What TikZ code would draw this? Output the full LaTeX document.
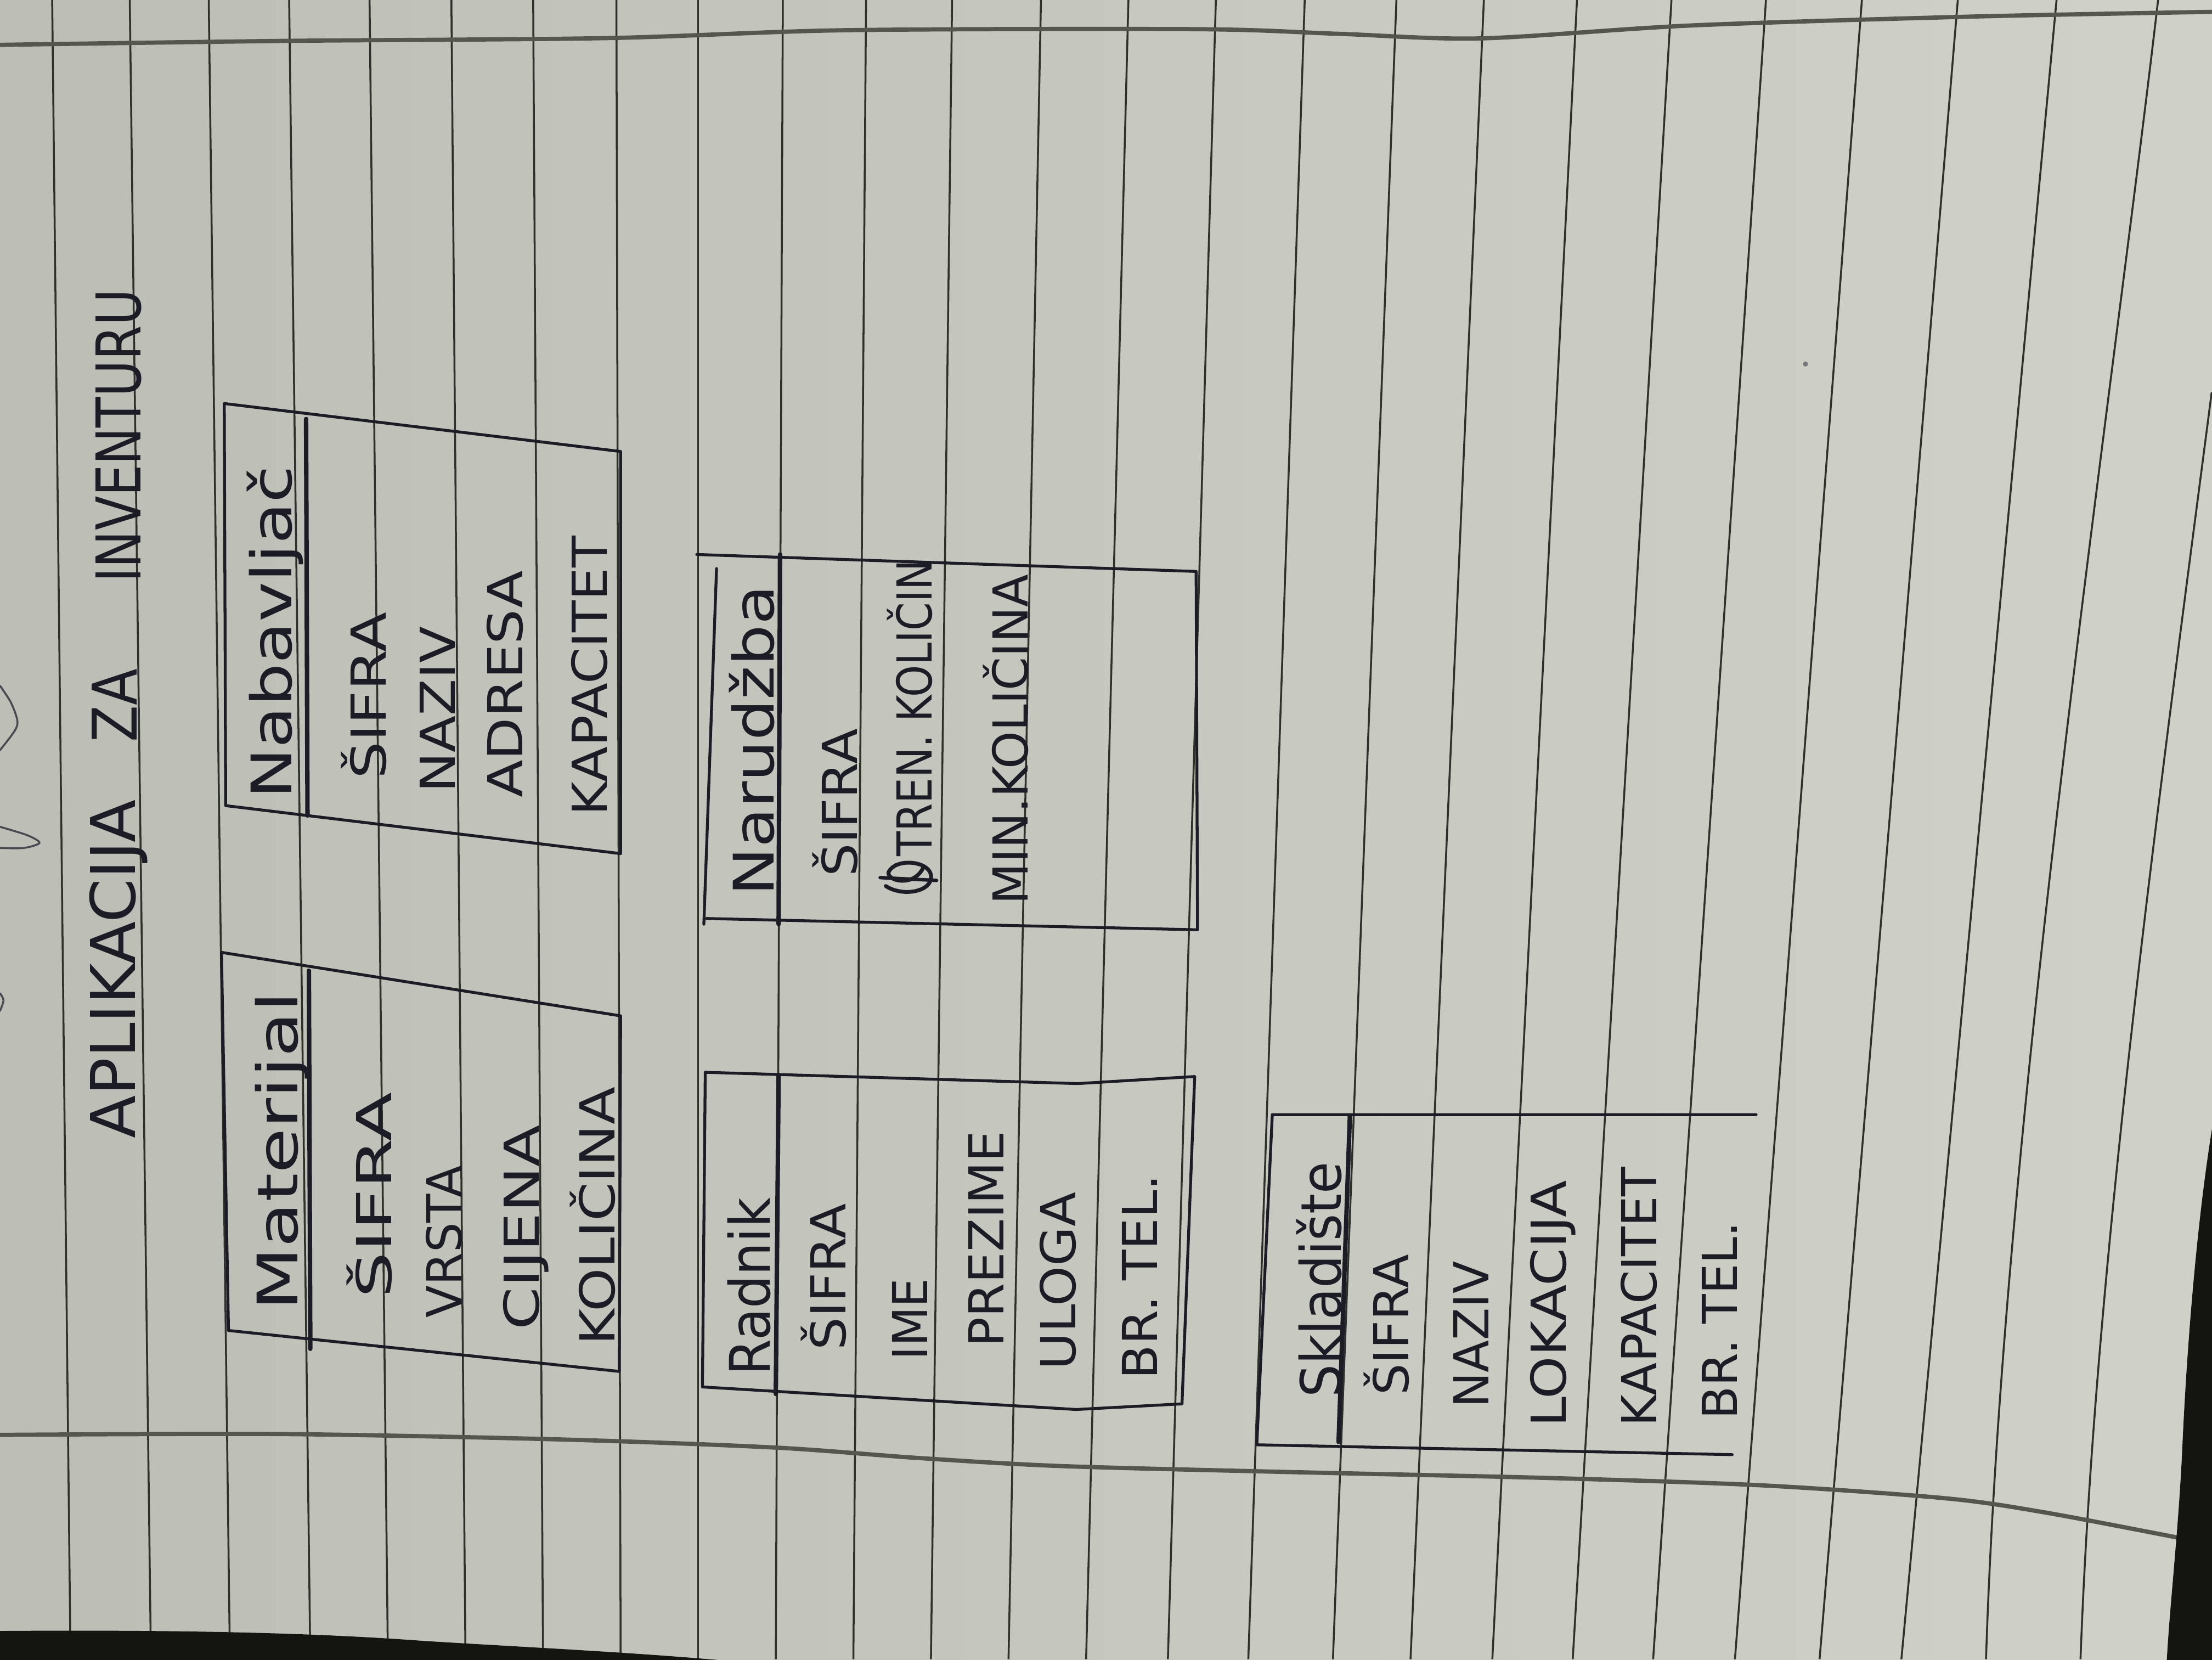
\documentclass[tikz,border=0pt]{standalone}
\usepackage{fontspec}
\setmainfont{DejaVu Sans}
\usepackage{graphicx}
\newcommand\fitw[2]{\resizebox{#1cm}{\height}{#2}}
\definecolor{paperL}{HTML}{BDBFB6}
\definecolor{paperR}{HTML}{CFD0C8}
\definecolor{rulec}{HTML}{2E302C}
\definecolor{inkc}{HTML}{1C1C26}
\definecolor{edgec}{HTML}{55574F}
\definecolor{darkc}{HTML}{141410}
\newcommand\paperbg{%
  \foreach \i in {0,...,15}{
    \pgfmathtruncatemacro\p{100-\i*100/15}
    \pgfmathsetmacro\xa{\i*98-1}
    \pgfmathsetmacro\xb{\i*98+99}
    \fill[paperL!\p!paperR] (\xa,-5) rectangle (\xb,1181);
  }}
\newcommand\ruledlines{%
  \foreach \t/\b in {37/50, 92/107, 148/163, 205/220, 262/275, 320/330, 378/385,
    437/440, 495/495, 555/550, 614/605, 675/660, 738/715, 800/770, 862/828,
    925/885, 990/945, 1052/1000, 1118/1058, 1185/1115, 1252/1172, 1320/1230,
    1388/1290, 1458/1348}
    \draw[rule] (\t,0) -- (\b,1176);
  \draw[rule] (1530,0) .. controls (1495,300) and (1420,800) .. (1408,1176);
  \draw[rule] (1568,278) .. controls (1530,570) and (1485,900) .. (1475,1176);}
\newcommand\darkcorners{%
  \fill[darkc] (-5,1156) .. controls (120,1155) and (220,1157) .. (300,1163)
    .. controls (380,1168) and (470,1172) .. (545,1180) -- (-5,1180) -- cycle;
  \fill[darkc] (1573,773) .. controls (1558,850) and (1550,960) .. (1547,1030)
    .. controls (1544,1090) and (1538,1140) .. (1536,1180) -- (1573,1180) -- cycle;}
\begin{document}
\begin{tikzpicture}[x=0.025714cm,y=-0.025714cm,
  ink/.style={draw=inkc, line width=1.5pt, line cap=round, line join=round},
  divider/.style={draw=inkc, line width=2.3pt, line cap=round},
  rule/.style={draw=rulec, line width=1.0pt},
  paperedge/.style={draw=edgec, line width=2.2pt, line cap=round},
  margin/.style={draw=inkc!80, line width=1pt, line cap=round},
  lbl/.style={rotate=90, inner sep=0pt, text=inkc, font=\fontsize{25}{25}\selectfont},
  ttl/.style={lbl, font=\fontsize{32}{32}\selectfont},
  hdr/.style={lbl, font=\fontsize{29}{29}\selectfont}]
\useasboundingbox (0cm,0cm) rectangle (40.32cm,-30.24cm);
\paperbg
\ruledlines
% paper edges
\draw[paperedge] plot[smooth] coordinates {(0,31.8) (200,29) (430,27) (600,21.4)
  (850,20.7) (950,24) (1050,27.2) (1200,18) (1400,11.7) (1568,8.4)};
\draw[paperedge] plot[smooth] coordinates {(0,1017) (200,1016.4) (400,1020.3)
  (550,1026) (650,1033.3) (750,1039) (900,1043) (1100,1047.6) (1250,1052.8)
  (1380,1062) (1450,1072) (1545,1090)};
\darkcorners
% margin marks
\draw[margin] plot[smooth] coordinates {(0,486) (7.8,498) (12.3,510.7) (10.4,518) (0,531.7)};
\draw[margin] plot[smooth] coordinates {(0,586) (19.4,592) (28,597.4) (16.8,601) (0,601)};
\draw[margin] plot[smooth] coordinates {(0,704) (2.5,709) (0,716.5)};
\fill[inkc!60] (1280,258) circle (1.8);
% title
\node[ttl] (tA) at (84,687) {\fitw{6.171}{APLIKACIJA}};
\node[ttl] (tZ) at (81,500) {\fitw{1.337}{ZA}};
\node[ttl] (tI) at (84,309) {\fitw{5.349}{INVENTURU}};
% Materijal
\draw[ink] (157,675) -- (440,720) -- (439,972) -- (162,943) -- cycle;
\draw[divider] (219,688) -- (220,956);
\node[hdr] (m0) at (200,816) {\fitw{5.811}{Materijal}};
\node[lbl] (m1) at (262,847) {\fitw{3.754}{ŠIFRA}};
\node[lbl] (m2) at (315,880) {\fitw{2.777}{VRSTA}};
\node[lbl] (m3) at (373,870) {\fitw{3.729}{CIJENA}};
\node[lbl] (m4) at (420,862) {\fitw{4.706}{KOLIČINA}};
% Nabavljac
\draw[ink] (159,286) -- (440,320) -- (440,605) -- (160,571) -- cycle;
\draw[divider] (217,297) -- (218,578);
\node[hdr] (n0) at (195,448) {\fitw{6.069}{Nabavljač}};
\node[lbl] (n1) at (258,493) {\fitw{3.034}{ŠIFRA}};
\node[lbl] (n2) at (310,503) {\fitw{3.034}{NAZIV}};
\node[lbl] (n3) at (358,485) {\fitw{4.140}{ADRESA}};
\node[lbl] (n4) at (418,479) {\fitw{5.091}{KAPACITET}};
% Radnik
\draw[ink] (500,760) -- (764,768) -- (847,763) -- (838,995) -- (763,999) -- (498,983) -- cycle;
\draw[divider] (552,762) -- (550,988);
\node[hdr] (r0) at (531,912) {\fitw{3.240}{Radnik}};
\node[lbl] (r1) at (584,905) {\fitw{2.674}{ŠIFRA}};
\node[lbl] (r2) at (645,935) {\fitw{1.491}{IME}};
\node[lbl] (r3) at (699,878) {\fitw{3.934}{PREZIME}};
\node[lbl] (r4) at (750,908) {\fitw{3.240}{ULOGA}};
\node[lbl] (r5) at (808,905) {\fitw{3.729}{BR. TEL.}};
% Narudzba
\draw[ink] (494,393) -- (848,405) -- (849,659) -- (501,651);
\draw[ink] (508,403) -- (499,655);
\draw[divider] (553,393) -- (552,655);
\node[hdr] (o0) at (533,525) {\fitw{5.657}{Narudžba}};
\node[lbl] (o1) at (592,569) {\fitw{2.700}{ŠIFRA}};
\node[lbl] (o2) at (645,502) {\fitw{5.400}{TREN. KOLIČIN}};
\node[lbl] (o3) at (713,524) {\fitw{6.017}{MIN.KOLIČINA}};
\draw[ink, line width=2pt] (628,628) .. controls (640,636) and (662,632) .. (660,620)
  .. controls (658,610) and (635,608) .. (630,618) .. controls (628,624) and (648,630) .. (655,614);
\draw[ink, line width=1.8pt] (624,622) -- (664,624);
% Skladiste
\draw[ink] (1245,790) -- (902,790) -- (891,1024) -- (1228,1031);
\draw[divider] (957,791) -- (949,1022);
\node[hdr] (s0) at (935,907) {\fitw{4.294}{Skladište}};
\node[lbl] (s1) at (983,939) {\fitw{2.571}{ŠIFRA}};
\node[lbl] (s2) at (1043,946) {\fitw{2.674}{NAZIV}};
\node[lbl] (s3) at (1101,924) {\fitw{4.500}{LOKACIJA}};
\node[lbl] (s4) at (1162,919) {\fitw{4.731}{KAPACITET}};
\node[lbl] (s5) at (1219,936) {\fitw{3.600}{BR. TEL.}};
% bottom strip of the sheet redrawn last
\begin{scope}
  \clip (-5,1130) rectangle (1573,1181);
  \paperbg
  \ruledlines
  \darkcorners
\end{scope}
\end{tikzpicture}
\end{document}
